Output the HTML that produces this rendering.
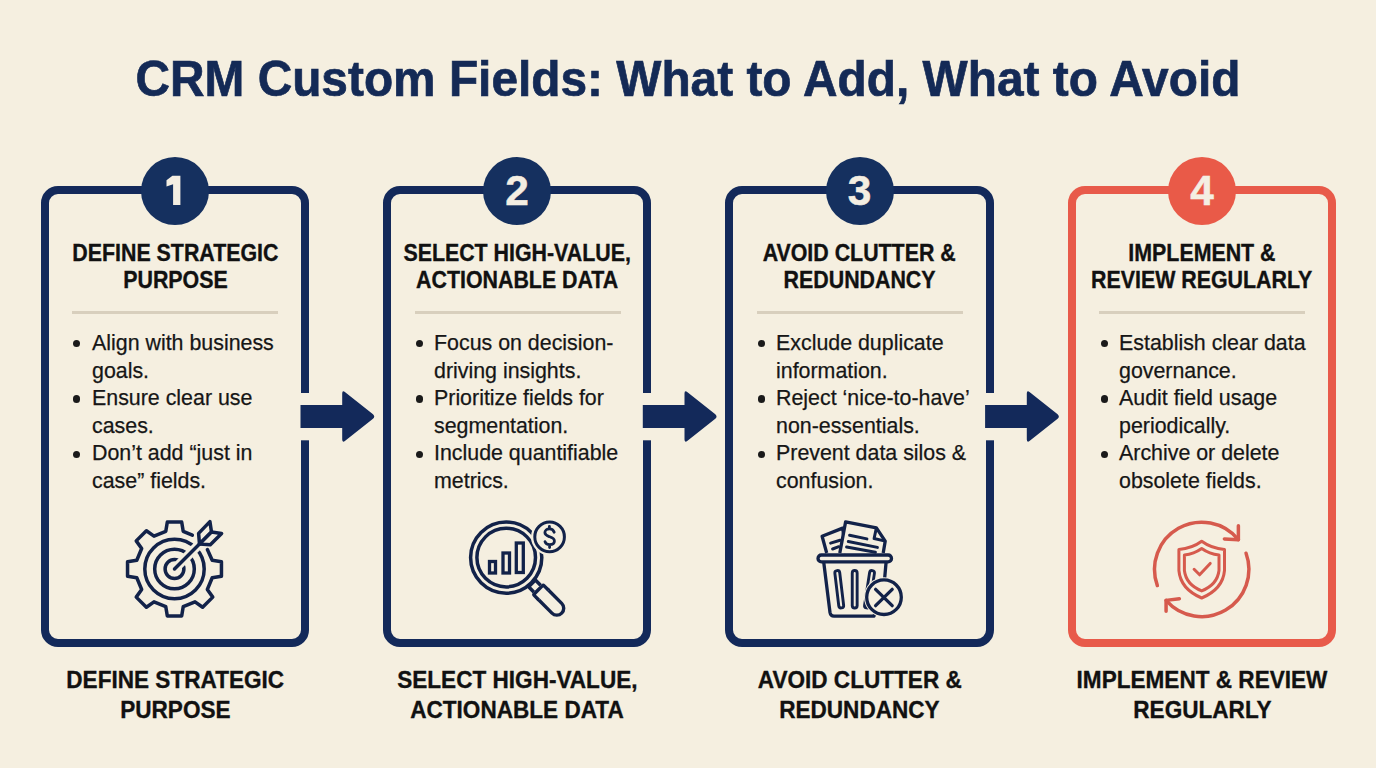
<!DOCTYPE html>
<html>
<head>
<meta charset="utf-8">
<style>
html,body{margin:0;padding:0;}
body{width:1376px;height:768px;overflow:hidden;position:relative;background:#f5efe0;font-family:"Liberation Sans",sans-serif;}
.abs{position:absolute;}
.title{position:absolute;left:0;top:49.1px;width:1376px;text-align:center;font-weight:bold;font-size:49.5px;line-height:60px;color:#142a56;white-space:nowrap;-webkit-text-stroke:0.7px #142a56;}
.title span{display:inline-block;transform:scaleX(0.966);transform-origin:center;}
.card{position:absolute;top:186.4px;width:268.3px;height:460.6px;box-sizing:border-box;border:8.6px solid #13295a;border-radius:17px;}
.card.red{border-color:#e85a4a;}
.num{position:absolute;top:156.6px;width:68px;height:68px;border-radius:50%;background:#15305f;color:#f4eee2;font-weight:bold;font-size:42.4px;line-height:68px;text-align:center;-webkit-text-stroke:0.5px #f4eee2;}
.num.red{background:#e95a48;}
.num.red{-webkit-text-stroke-color:#f4eee2;}
.head{position:absolute;top:239.8px;width:300px;text-align:center;font-weight:bold;font-size:23.5px;line-height:27.5px;color:#111;white-space:nowrap;-webkit-text-stroke:0.35px #111;}
.head span,.label span{display:inline-block;transform:scaleX(0.909);transform-origin:center;}
.div{position:absolute;top:311px;width:206px;height:3px;background:#d8cfbd;}
.bul{position:absolute;top:328.9px;font-size:22.5px;line-height:27.64px;color:#161616;white-space:nowrap;-webkit-text-stroke:0.25px #161616;transform:scaleX(0.95);transform-origin:0 0;}
.dot{position:absolute;width:7.4px;height:7.4px;border-radius:50%;background:#1a1a1a;}
.label{position:absolute;top:664.8px;width:320px;text-align:center;font-weight:bold;font-size:24.3px;line-height:29.7px;color:#111;white-space:nowrap;-webkit-text-stroke:0.35px #111;}
.label span{transform:scaleX(0.929);}
</style>
</head>
<body>
<div class="title"><span>CRM Custom Fields: What to Add, What to Avoid</span></div>

<!-- Card 1 -->
<div class="card" style="left:40.7px"></div>
<div class="num" style="left:141px"></div>
<div class="head" style="left:25px"><span>DEFINE STRATEGIC</span><br><span>PURPOSE</span></div>
<div class="div" style="left:72px"></div>
<div class="bul" style="left:92px">Align with business<br>goals.<br>Ensure clear use<br>cases.<br>Don’t add “just in<br>case” fields.</div>
<div class="dot" style="left:72.5px;top:339.9px"></div>
<div class="dot" style="left:72.5px;top:395.2px"></div>
<div class="dot" style="left:72.5px;top:450.5px"></div>
<div class="label" style="left:15px"><span>DEFINE STRATEGIC</span><br><span>PURPOSE</span></div>

<!-- Card 2 -->
<div class="card" style="left:383px"></div>
<div class="num" style="left:483px">2</div>
<div class="head" style="left:367.5px"><span>SELECT HIGH-VALUE,</span><br><span>ACTIONABLE DATA</span></div>
<div class="div" style="left:414.5px"></div>
<div class="bul" style="left:434px">Focus on decision-<br>driving insights.<br>Prioritize fields for<br>segmentation.<br>Include quantifiable<br>metrics.</div>
<div class="dot" style="left:415.5px;top:339.9px"></div>
<div class="dot" style="left:415.5px;top:395.2px"></div>
<div class="dot" style="left:415.5px;top:450.5px"></div>
<div class="label" style="left:357px"><span>SELECT HIGH-VALUE,</span><br><span>ACTIONABLE DATA</span></div>

<!-- Card 3 -->
<div class="card" style="left:725.3px"></div>
<div class="num" style="left:825.5px">3</div>
<div class="head" style="left:709.5px"><span>AVOID CLUTTER &amp;</span><br><span>REDUNDANCY</span></div>
<div class="div" style="left:756.5px"></div>
<div class="bul" style="left:776px">Exclude duplicate<br>information.<br>Reject ‘nice-to-have’<br>non-essentials.<br>Prevent data silos &amp;<br>confusion.</div>
<div class="dot" style="left:757.5px;top:339.9px"></div>
<div class="dot" style="left:757.5px;top:395.2px"></div>
<div class="dot" style="left:757.5px;top:450.5px"></div>
<div class="label" style="left:699.5px"><span>AVOID CLUTTER &amp;</span><br><span>REDUNDANCY</span></div>

<!-- Card 4 -->
<div class="card red" style="left:1068px"></div>
<div class="num red" style="left:1168px">4</div>
<div class="head" style="left:1052px"><span>IMPLEMENT &amp;</span><br><span>REVIEW REGULARLY</span></div>
<div class="div" style="left:1099px"></div>
<div class="bul" style="left:1119px">Establish clear data<br>governance.<br>Audit field usage<br>periodically.<br>Archive or delete<br>obsolete fields.</div>
<div class="dot" style="left:1100.5px;top:339.9px"></div>
<div class="dot" style="left:1100.5px;top:395.2px"></div>
<div class="dot" style="left:1100.5px;top:450.5px"></div>
<div class="label" style="left:1042px"><span>IMPLEMENT &amp; REVIEW</span><br><span>REGULARLY</span></div>

<!--ICONS--><svg class="abs" style="left:0;top:0" width="1376" height="768" viewBox="0 0 1376 768">
<rect x="299.5" y="393" width="11" height="47.3" fill="#f5efe0"/>
<path d="M300.5 405 H342.2 V393.5 Q342.2 390 345.2 392.2 L373.0 414.2 Q375.5 416.5 373.0 418.8 L345.2 440.8 Q342.2 443 342.2 439.5 V428 H300.5 Z" fill="#13295a"/>
<rect x="641.8" y="393" width="11" height="47.3" fill="#f5efe0"/>
<path d="M642.8 405 H684.5 V393.5 Q684.5 390 687.5 392.2 L715.3 414.2 Q717.8 416.5 715.3 418.8 L687.5 440.8 Q684.5 443 684.5 439.5 V428 H642.8 Z" fill="#13295a"/>
<rect x="984.1" y="393" width="11" height="47.3" fill="#f5efe0"/>
<path d="M985.1 405 H1026.8 V393.5 Q1026.8 390 1029.8 392.2 L1057.6 414.2 Q1060.1 416.5 1057.6 418.8 L1029.8 440.8 Q1026.8 443 1026.8 439.5 V428 H985.1 Z" fill="#13295a"/>
<path d="M172.4 175.8 L180.4 175.8 L180.4 205 L173.1 205 L173.1 184.3 L166.5 186.6 L166.5 180.2 Z" fill="#f4eee2"/>
<path d="M192.32 535.21 L183.21 531.29 L181.68 522.05 L167.32 522.05 L165.79 531.29 L153.99 536.18 L146.38 530.72 L136.22 540.88 L141.68 548.49 L136.79 560.29 L127.55 561.82 L127.55 576.18 L136.79 577.71 L141.68 589.51 L136.22 597.12 L146.38 607.28 L153.99 601.82 L165.79 606.71 L167.32 615.95 L181.68 615.95 L183.21 606.71 L195.01 601.82 L202.62 607.28 L212.78 597.12 L207.32 589.51 L212.21 577.71 L221.45 576.18 L221.45 561.82 L212.21 560.29 L207.38 549.55" fill="none" stroke="#122249" stroke-width="3.5" stroke-linejoin="round" stroke-linecap="round"/>
<circle cx="174.5" cy="569" r="29.7" fill="none" stroke="#122249" stroke-width="3.5"/>
<circle cx="174.5" cy="569" r="19.8" fill="none" stroke="#122249" stroke-width="3.5"/>
<circle cx="174.5" cy="569" r="9.4" fill="none" stroke="#122249" stroke-width="3.5"/>
<line x1="174.5" y1="569" x2="211.5" y2="532" stroke="#f5efe0" stroke-width="9.5"/>
<line x1="174.5" y1="569" x2="211.5" y2="532" stroke="#122249" stroke-width="3.5" stroke-linecap="round"/>
<path d="M199.50 544.00 L198.60 533.40 L209.90 521.60 L211.50 532.00Z" fill="#f5efe0" stroke="#122249" stroke-width="3.5" stroke-linejoin="round"/>
<path d="M199.50 544.00 L210.30 544.70 L221.60 533.40 L211.50 532.00Z" fill="#f5efe0" stroke="#122249" stroke-width="3.5" stroke-linejoin="round"/>
<circle cx="506.2" cy="557.6" r="35.6" fill="none" stroke="#122249" stroke-width="3.5"/>
<circle cx="506.2" cy="557.6" r="29.3" fill="none" stroke="#122249" stroke-width="3.5"/>
<g transform="translate(506.2 557.6) rotate(45)"><rect x="36.5" y="-4.8" width="9" height="9.6" fill="#f5efe0" stroke="#122249" stroke-width="3.5" stroke-linejoin="round"/><rect x="45.5" y="-6.9" width="33" height="13.8" rx="6.9" fill="#f5efe0" stroke="#122249" stroke-width="3.4"/><rect x="44" y="-6.9" width="9" height="13.8" fill="#f5efe0"/><path d="M53 -6.9 H46.5 Q45.5 -6.9 45.5 -5.9 V5.9 Q45.5 6.9 46.5 6.9 H53" fill="none" stroke="#122249" stroke-width="3.4"/></g>
<rect x="489.5" y="561.5" width="6" height="11.5" fill="none" stroke="#122249" stroke-width="3.3"/>
<rect x="503" y="553" width="6.5" height="20" fill="none" stroke="#122249" stroke-width="3.3"/>
<rect x="516.3" y="543" width="7" height="29.5" fill="none" stroke="#122249" stroke-width="3.3"/>
<circle cx="549.6" cy="536.9" r="18.6" fill="#f5efe0"/>
<circle cx="549.6" cy="536.9" r="14.8" fill="#f5efe0" stroke="#122249" stroke-width="3"/>
<path d="M554.2 532.3 C553.2 529.4 550.8 528.9 549.4 528.9 C546.6 528.9 544.9 530.6 544.9 532.6 C544.9 535.3 547.5 536 549.5 536.7 C552 537.5 554.4 538.2 554.4 541 C554.4 543.3 552.4 544.6 549.6 544.6 C547.6 544.6 545.6 543.6 545 541.6 M549.4 526.3 V528.9 M549.6 544.6 V547.6" fill="none" stroke="#122249" stroke-width="2.8" stroke-linecap="round"/>
<path d="M826.7 553 L822.1 536.3 L842.7 528.1 L846 553" fill="#f5efe0" stroke="#122249" stroke-width="3.3" stroke-linejoin="round"/>
<path d="M830.6 543.1 L840.1 540.2 M832.6 549 L838.8 546.7" stroke="#122249" stroke-width="3" stroke-linecap="round"/>
<path d="M839.8 553 L845.6 521.9 L876.4 527.8 L885.2 541.2 L883.2 553" fill="#f5efe0" stroke="#122249" stroke-width="3.3" stroke-linejoin="round"/>
<path d="M876.4 527.8 L874.1 538.5 L884.2 540.9" fill="none" stroke="#122249" stroke-width="3" stroke-linejoin="round"/>
<path d="M849.6 535.3 L866.9 538.9 M848.3 541.5 L877.4 547.4 M846.6 547 L875.4 552.3" stroke="#122249" stroke-width="3" stroke-linecap="round"/>
<path d="M823.7 562 L830 612.5 Q830.6 616.1 834 616.1 L874 616.1 L884.7 577.8 L886.1 562" fill="#f5efe0" stroke="#122249" stroke-width="3.3" stroke-linejoin="round"/>
<rect x="818" y="555" width="73.5" height="6.8" rx="3.4" fill="#f5efe0" stroke="#122249" stroke-width="3.3"/>
<line x1="837.3" y1="573" x2="841.2" y2="605.5" stroke="#122249" stroke-width="7.8" stroke-linecap="round"/>
<line x1="837.3" y1="573" x2="841.2" y2="605.5" stroke="#f5efe0" stroke-width="2.0" stroke-linecap="round"/>
<line x1="854.7" y1="573" x2="854.7" y2="605.5" stroke="#122249" stroke-width="7.8" stroke-linecap="round"/>
<line x1="854.7" y1="573" x2="854.7" y2="605.5" stroke="#f5efe0" stroke-width="2.0" stroke-linecap="round"/>
<line x1="872" y1="573" x2="867" y2="605.5" stroke="#122249" stroke-width="7.8" stroke-linecap="round"/>
<line x1="872" y1="573" x2="867" y2="605.5" stroke="#f5efe0" stroke-width="2.0" stroke-linecap="round"/>
<circle cx="884" cy="597.2" r="20" fill="#f5efe0"/>
<circle cx="884" cy="597.2" r="17.3" fill="#f5efe0" stroke="#122249" stroke-width="3.3"/>
<path d="M875.6 589.3 L892.2 605.7 M892.2 589.3 L875.6 605.7" stroke="#122249" stroke-width="3.3" stroke-linecap="round"/>
<path d="M1157.35 585.54 A47.2 47.2 0 0 1 1238.38 539.70" fill="none" stroke="#d65a4d" stroke-width="3.5" stroke-linecap="round"/>
<path d="M1238.38 525.70 L1238.38 539.70 L1224.38 538.90" fill="none" stroke="#d65a4d" stroke-width="3.5" stroke-linecap="round" stroke-linejoin="round"/>
<path d="M1246.05 553.26 A47.2 47.2 0 0 1 1166.08 600.37" fill="none" stroke="#d65a4d" stroke-width="3.5" stroke-linecap="round"/>
<path d="M1166.08 611.37 L1166.08 600.37 L1179.38 598.77" fill="none" stroke="#d65a4d" stroke-width="3.5" stroke-linecap="round" stroke-linejoin="round"/>
<path d="M1201.7 541.3 Q1192 548.5 1178.9 549.4 V570.5 Q1180.5 589 1201.7 598 Q1222.9 589 1224.5 570.5 V549.4 Q1211.4 548.5 1201.7 541.3 Z" fill="none" stroke="#d65a4d" stroke-width="3" stroke-linejoin="round"/>
<path d="M1201.7 548.5 Q1194 554 1184.4 554.9 V570.5 Q1186 584.5 1201.7 590.9 Q1217.4 584.5 1219 570.5 V554.9 Q1209.4 554 1201.7 548.5 Z" fill="none" stroke="#d65a4d" stroke-width="3" stroke-linejoin="round"/>
<path d="M1194.1 569.3 L1199.6 574.8 L1210.2 563.4" fill="none" stroke="#d65a4d" stroke-width="3" stroke-linecap="round" stroke-linejoin="round"/>
</svg><!--/ICONS-->
</body>
</html>
